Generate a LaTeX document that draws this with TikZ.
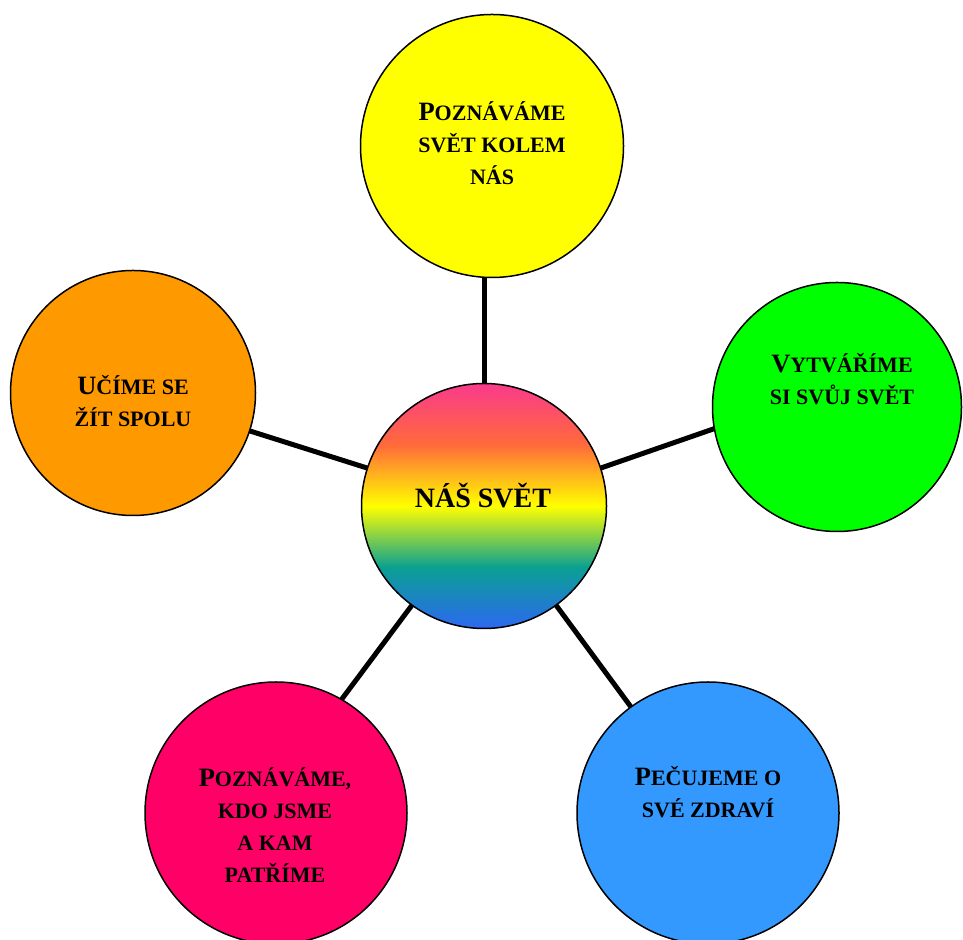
\documentclass[tikz,border=0pt]{standalone}
\usepackage{fontspec}
\setmainfont{Liberation Serif}
\definecolor{cyel}{HTML}{FFFF00}
\definecolor{cgrn}{HTML}{00FF00}
\definecolor{corg}{HTML}{FF9900}
\definecolor{cblu}{HTML}{3399FF}
\definecolor{cpnk}{HTML}{FF0066}
\definecolor{gp}{HTML}{FA3A8C}
\definecolor{go}{HTML}{FF6A3A}
\definecolor{gy}{HTML}{FFFF00}
\definecolor{gt}{HTML}{0AA092}
\definecolor{gb}{HTML}{2D68F2}
\pgfdeclareverticalshading{rainbowsh}{100bp}{color(0bp)=(gb); color(25bp)=(gb); color(37.5bp)=(gt); color(50bp)=(gy); color(62.5bp)=(go); color(75bp)=(gp); color(100bp)=(gp)}
\newcommand\Lgl[1]{{\fontsize{26.5}{32}\selectfont #1}}
\begin{document}
\begin{tikzpicture}[x=1pt,y=1pt,
  bub/.style={circle,draw=black,line width=1.5pt,inner sep=0pt,outer sep=0pt},
  conn/.style={line width=5pt,draw=black},
  lbl/.style={align=center,font=\bfseries\fontsize{22}{32}\selectfont,text=black,inner sep=0pt}]
\useasboundingbox (0,0) rectangle (963,939);
\node[bub,fill=cyel,minimum size=263pt] (yel) at (492,793) {};
\node[bub,fill=cgrn,minimum size=249pt] (grn) at (837,532) {};
\node[bub,fill=corg,minimum size=245pt] (org) at (133,546) {};
\node[bub,fill=cpnk,minimum size=262pt] (pnk) at (276,126) {};
\node[bub,fill=cblu,minimum size=262pt] (blu) at (708,126) {};
\node[bub,shading=rainbowsh,minimum size=245pt] (ctr) at (484,433) {};
\draw[conn] (ctr.90) -- (ctr.90 |- yel.south);
\draw[conn] (ctr.162) -- (org.342);
\draw[conn] (ctr.18) -- (grn.190);
\draw[conn] (ctr.234) -- (pnk.60);
\draw[conn] (ctr.306) -- (blu.126);
\node[lbl] (tyel) at (492,796) {\Lgl{P}OZNÁVÁME\\SVĚT KOLEM\\NÁS};
\node[lbl] (tgrn) at (842,560) {\Lgl{V}YTVÁŘÍME\\SI SVŮJ SVĚT};
\node[lbl] (torg) at (133,538) {\Lgl{U}ČÍME SE\\ŽÍT SPOLU};
\node[lbl,font=\bfseries\fontsize{28}{32}\selectfont] (tctr) at (483,443) {NÁŠ SVĚT};
\node[lbl] (tpnk) at (275,114) {\Lgl{P}OZNÁVÁME,\\KDO JSME\\A KAM\\PATŘÍME};
\node[lbl] (tblu) at (708,147) {\Lgl{P}EČUJEME O\\SVÉ ZDRAVÍ};
\end{tikzpicture}
\end{document}
